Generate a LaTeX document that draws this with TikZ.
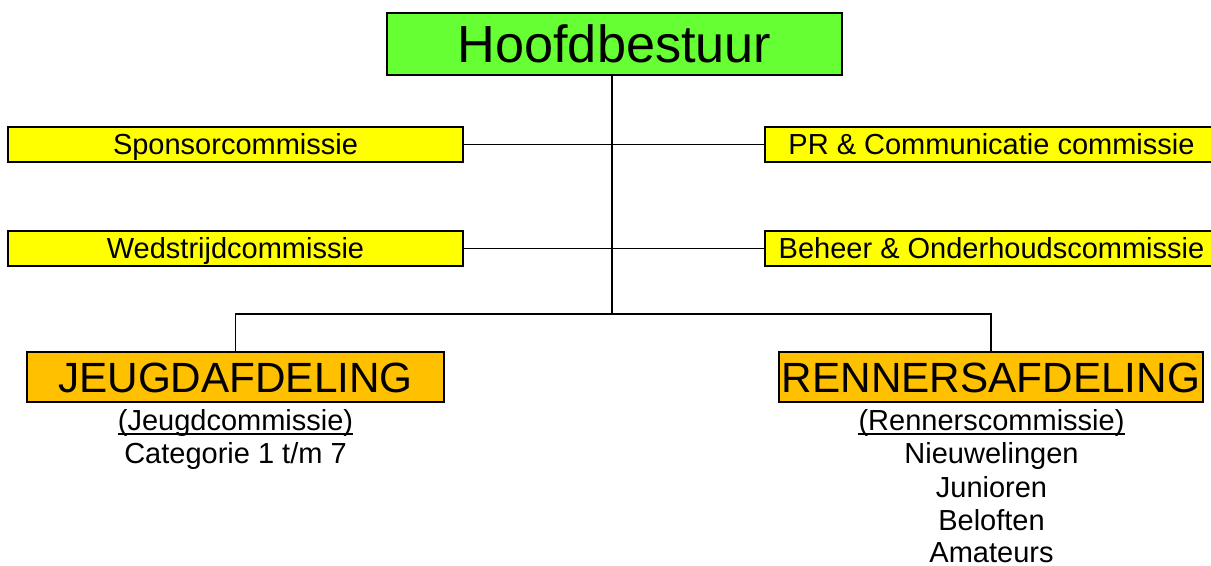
\documentclass[tikz,border=0pt]{standalone}
\usepackage{fontspec}
\setmainfont{Liberation Sans}
\definecolor{hbgreen}{HTML}{66FF33}
\definecolor{cyellow}{HTML}{FFFF00}
\definecolor{dorange}{HTML}{FFC000}
\begin{document}
\begin{tikzpicture}[x=0.75pt,y=-0.75pt,
  box/.style={draw=black,line width=1.5pt,inner sep=0pt,text depth=0pt,align=center},
  hbbox/.style={box,fill=hbgreen,minimum width=341.25pt,minimum height=46.5pt,text height=28.1pt,font=\fontsize{39.2pt}{44pt}\selectfont},
  combox/.style={box,fill=cyellow,minimum height=26.25pt,text height=15.6pt,font=\fontsize{21.75pt}{25pt}\selectfont},
  afdbox/.style={box,fill=dorange,minimum height=37.5pt,text height=22.7pt,font=\fontsize{31.7pt}{36pt}\selectfont},
  sub/.style={inner sep=0pt,anchor=base,font=\fontsize{21.75pt}{25pt}\selectfont},
  conn/.style={line width=1.1pt,draw=black},
  uline/.style={line width=1.3pt}]
\useasboundingbox (0,0) rectangle (1211,565);
\clip (0,0) rectangle (1211,565);

\node[hbbox] (hb) at (614.5,44) {Hoofdbestuur};

\node[combox,minimum width=341.25pt] (sp) at (235.5,144.5) {Sponsorcommissie};
\node[combox,minimum width=341.25pt] (ws) at (235.5,248.5) {Wedstrijdcommissie};
\node[combox,minimum width=339.75pt] (pr) at (991.5,144.5) {PR \& Communicatie commissie};
\node[combox,minimum width=339.75pt] (bo) at (991.5,248.5) {Beheer \& Onderhoudscommissie};

\node[afdbox,minimum width=312.75pt] (jd) at (235.5,377) {JEUGDAFDELING};
\node[afdbox,minimum width=318pt] (rn) at (991,377) {RENNERSAFDELING};

\coordinate (j) at (612,314);

\draw[conn] (hb.south -| j) -- (j);
\draw[conn] (sp.east) -- (sp.east -| j);
\draw[conn] (ws.east) -- (ws.east -| j);
\draw[conn] (pr.west) -- (pr.west -| j);
\draw[conn] (bo.west) -- (bo.west -| j);
\draw[conn] (jd.north) |- (j);
\draw[conn] (rn.north) |- (j);

\node[sub] (jc) at (235.5,430) {(Jeugdcommissie)};
\draw[uline] ([yshift=-3pt]jc.base west) -- ([yshift=-3pt]jc.base east);
\node[sub] (jcat) at (235.5,463) {Categorie 1 t/m 7};

\node[sub] (rc) at (991.5,430) {(Rennerscommissie)};
\draw[uline] ([yshift=-3pt]rc.base west) -- ([yshift=-3pt]rc.base east);
\node[sub] (r1) at (991.5,463) {Nieuwelingen};
\node[sub] (r2) at (991.5,497) {Junioren};
\node[sub] (r3) at (991.5,530) {Beloften};
\node[sub] (r4) at (991.5,562) {Amateurs};
\end{tikzpicture}
\end{document}
